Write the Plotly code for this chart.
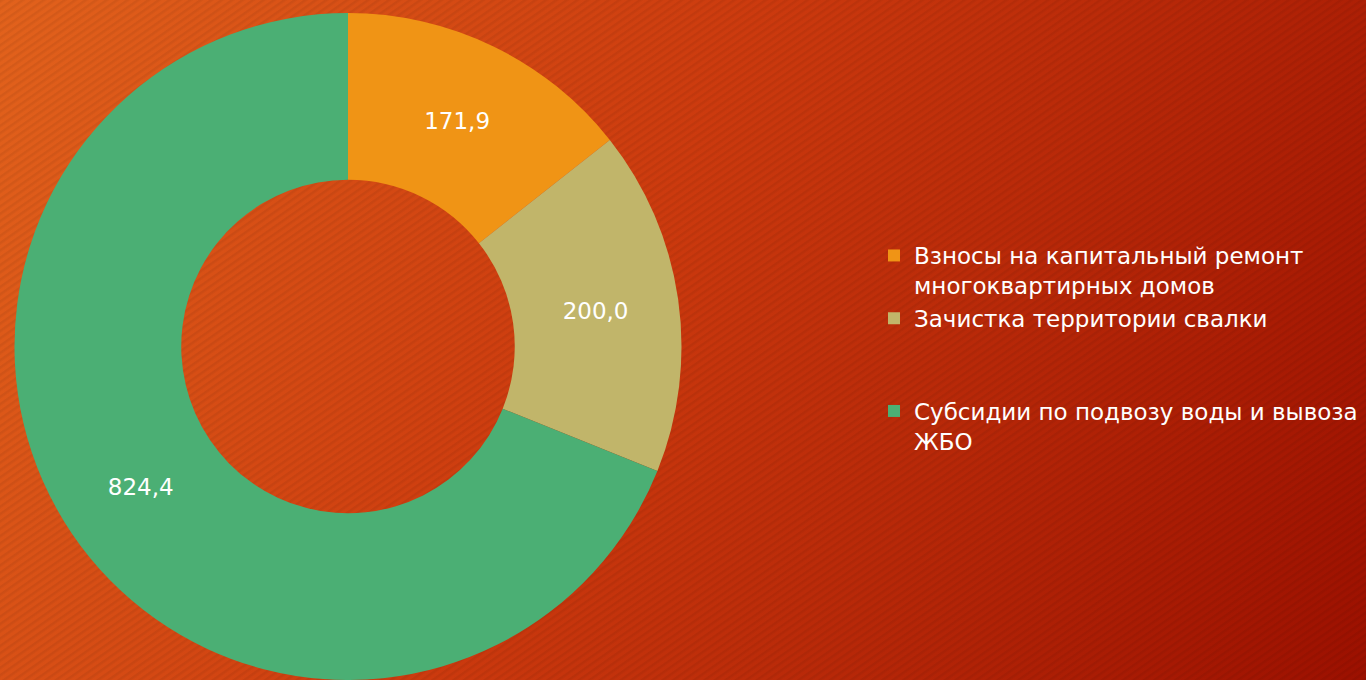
import base64
import plotly.graph_objects as go

categories = [
    "Взносы на капитальный ремонт<br>многоквартирных домов",
    "Зачистка территории свалки<br> <br> ",
    "Субсидии по подвозу воды и вывоза<br>ЖБО",
]
values = [171.9, 200.0, 824.4]
colors = ["#F09415", "#C1B56A", "#4BAF74"]

W, H = 1366, 680

svg = f'''<svg xmlns="http://www.w3.org/2000/svg" width="{W}" height="{H}" viewBox="0 0 {W} {H}">
<defs>
<linearGradient id="g" x1="0" y1="0" x2="{W}" y2="{H}" gradientUnits="userSpaceOnUse">
<stop offset="0" stop-color="#E2621C"/>
<stop offset="0.45" stop-color="#CC3A0E"/>
<stop offset="1" stop-color="#9C1000"/>
</linearGradient>
<pattern id="p" width="6" height="6" patternUnits="userSpaceOnUse" patternTransform="rotate(-35)">
<rect x="0" y="0" width="6" height="2.5" fill="#000" fill-opacity="0.06"/>
</pattern>
</defs>
<rect width="{W}" height="{H}" fill="url(#g)"/>
<rect width="{W}" height="{H}" fill="url(#p)"/>
</svg>'''
bg_uri = "data:image/svg+xml;base64," + base64.b64encode(svg.encode()).decode()

fig = go.Figure(
    go.Pie(
        labels=categories,
        values=values,
        hole=0.5,
        sort=False,
        direction="clockwise",
        rotation=0,
        marker=dict(colors=colors, line=dict(width=0)),
        texttemplate="%{value:.1f}",
        textposition="inside",
        insidetextorientation="horizontal",
        textfont=dict(family="DejaVu Sans", size=23, color="#FFFFFF"),
        domain=dict(x=[0, 696 / W], y=[0, 667 / H]),
        hoverinfo="value",
    )
)

fig.update_layout(
    width=W,
    height=H,
    margin=dict(l=0, r=0, t=0, b=0),
    separators=", ",
    paper_bgcolor="#C63410",
    plot_bgcolor="rgba(0,0,0,0)",
    showlegend=True,
    legend=dict(
        x=874 / W,
        y=1 - 234 / H,
        xanchor="left",
        yanchor="top",
        valign="top",
        bgcolor="rgba(0,0,0,0)",
        font=dict(family="DejaVu Sans", size=23, color="#FFFFFF"),
        tracegroupgap=0,
    ),
    images=[
        dict(
            source=bg_uri,
            xref="paper",
            yref="paper",
            x=0,
            y=1,
            sizex=1,
            sizey=1,
            sizing="stretch",
            xanchor="left",
            yanchor="top",
            layer="below",
        )
    ],
)

fig.write_html(
    "out.html",
    config={"displayModeBar": False},
    post_script="document.body.style.margin='0';document.body.style.overflow='hidden';",
)
